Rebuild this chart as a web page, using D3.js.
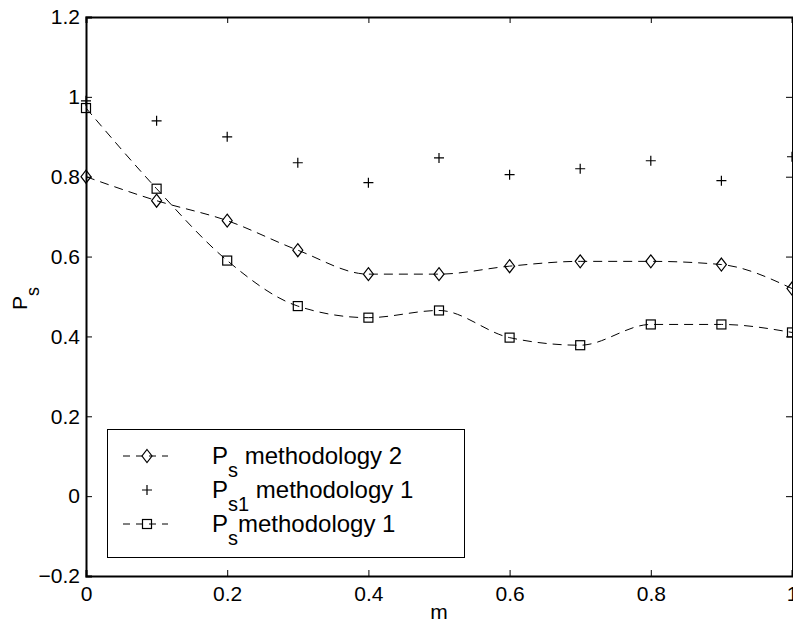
<!DOCTYPE html>
<html>
<head>
<meta charset="utf-8">
<script src="https://cdn.jsdelivr.net/npm/d3@7"></script>
<style>
  html, body { margin: 0; padding: 0; background: #fff; }
  svg { display: block; font-family: "Liberation Sans", Arial, Helvetica, sans-serif; }
</style>
</head>
<body>
<script>
// chart data
const mValues = [0, 0.1, 0.2, 0.3, 0.4, 0.5, 0.6, 0.7, 0.8, 0.9, 1.0];
const psMethodology2 = [0.80, 0.74, 0.69, 0.616, 0.556, 0.556, 0.576, 0.588, 0.588, 0.58, 0.52];
const ps1Methodology1 = [0.99, 0.94, 0.90, 0.835, 0.785, 0.847, 0.805, 0.82, 0.84, 0.79, 0.85];
const psMethodology1 = [0.972, 0.77, 0.59, 0.476, 0.447, 0.465, 0.397, 0.378, 0.43, 0.43, 0.41];
const xTicks = [0, 0.2, 0.4, 0.6, 0.8, 1];
const yTicks = [-0.2, 0, 0.2, 0.4, 0.6, 0.8, 1, 1.2];

const width = 793, height = 624;
const margin = { left: 86, right: 1, top: 17, bottom: 48 };
const plotW = width - margin.left - margin.right;
const plotH = height - margin.top - margin.bottom;

const svg = d3.select('body').append('svg')
    .attr('width', width)
    .attr('height', height);

const x = d3.scaleLinear().domain([0, 1]).range([margin.left, margin.left + plotW]);
const y = d3.scaleLinear().domain([-0.2, 1.2]).range([margin.top + plotH, margin.top]);

const fmt = v => (v < 0 ? '\u2212' : '') + d3.format('')(Math.abs(v));

// axes: ticks point inward, on all four sides
const tickLen = 6;
const axisBottom = d3.axisBottom(x).tickValues(xTicks).tickSize(-tickLen).tickPadding(10).tickFormat(fmt);
const axisTop = d3.axisTop(x).tickValues(xTicks).tickSize(-tickLen).tickFormat('');
const axisLeft = d3.axisLeft(y).tickValues(yTicks).tickSize(-tickLen).tickPadding(6).tickFormat(fmt);
const axisRight = d3.axisRight(y).tickValues(yTicks).tickSize(-tickLen).tickFormat('');

function styleAxis(g, w) {
    g.select('.domain').attr('stroke', '#000').attr('stroke-width', w);
    g.selectAll('.tick line').attr('stroke', '#000').attr('stroke-width', 1);
    g.selectAll('.tick text').attr('fill', '#000').attr('font-size', 21);
}

svg.append('g').attr('transform', `translate(0,${margin.top + plotH})`).call(axisBottom).call(g => styleAxis(g, 2));
svg.append('g').attr('transform', `translate(0,${margin.top})`).call(axisTop).call(g => styleAxis(g, 2));
svg.append('g').attr('transform', `translate(${margin.left},0)`).call(axisLeft).call(g => styleAxis(g, 2));
svg.append('g').attr('transform', `translate(${margin.left + plotW},0)`).call(axisRight).call(g => styleAxis(g, 1));

svg.selectAll('.domain').attr('fill', 'none');

// axis labels
svg.append('text')
    .attr('x', x(0.5))
    .attr('y', 619)
    .attr('text-anchor', 'middle')
    .attr('font-size', 21)
    .text('m');

const yLab = svg.append('text')
    .attr('transform', `translate(27,${y(0.5) + 2}) rotate(-90)`)
    .attr('text-anchor', 'middle')
    .attr('font-size', 21);
yLab.append('tspan').text('P');
yLab.append('tspan').attr('dy', 12).attr('font-size', 18).text('s');

// series
const line = d3.line()
    .x((d, i) => x(mValues[i]))
    .y(d => y(d))
    .curve(d3.curveMonotoneX);

const dash = '9,6';

const diamond = (g, cx, cy) => g.append('path')
    .attr('d', `M${cx},${cy - 6.5}L${cx + 5},${cy}L${cx},${cy + 6.5}L${cx - 5},${cy}Z`)
    .attr('fill', 'none').attr('stroke', '#000').attr('stroke-width', 1.2);
const square = (g, cx, cy) => g.append('rect')
    .attr('x', cx - 4.5).attr('y', cy - 4.5).attr('width', 9).attr('height', 9)
    .attr('fill', 'none').attr('stroke', '#000').attr('stroke-width', 1.2);
const plus = (g, cx, cy) => g.append('path')
    .attr('d', `M${cx - 5},${cy}H${cx + 5}M${cx},${cy - 5}V${cy + 5}`)
    .attr('fill', 'none').attr('stroke', '#000').attr('stroke-width', 1.2);

const plot = svg.append('g');

plot.append('path')
    .datum(psMethodology2)
    .attr('d', line)
    .attr('fill', 'none').attr('stroke', '#000').attr('stroke-width', 1)
    .attr('stroke-dasharray', dash);
plot.append('path')
    .datum(psMethodology1)
    .attr('d', line)
    .attr('fill', 'none').attr('stroke', '#000').attr('stroke-width', 1)
    .attr('stroke-dasharray', dash);

psMethodology2.forEach((v, i) => diamond(plot, x(mValues[i]), y(v)));
psMethodology1.forEach((v, i) => square(plot, x(mValues[i]), y(v)));
ps1Methodology1.forEach((v, i) => plus(plot, x(mValues[i]), y(v)));

// legend
const legend = svg.append('g');
legend.append('rect')
    .attr('x', 107.5).attr('y', 429.5).attr('width', 357).attr('height', 128)
    .attr('fill', '#fff').attr('stroke', '#000').attr('stroke-width', 1);

const legendRows = [
    { sub: 's', rest: ' methodology 2', marker: diamond, dashed: true, cy: 456 },
    { sub: 's1', rest: ' methodology 1', marker: plus, dashed: false, cy: 490 },
    { sub: 's', rest: 'methodology 1', marker: square, dashed: true, cy: 524 }
];

legendRows.forEach(r => {
    if (r.dashed) {
        legend.append('line')
            .attr('x1', 123).attr('x2', 168).attr('y1', r.cy).attr('y2', r.cy)
            .attr('stroke', '#000').attr('stroke-width', 1).attr('stroke-dasharray', '7,6');
    }
    r.marker(legend, 147, r.cy);
    const t = legend.append('text')
        .attr('x', 212)
        .attr('y', r.cy + 8)
        .attr('font-size', 24);
    t.append('tspan').text('P');
    t.append('tspan').attr('dy', 13).attr('font-size', 20).text(r.sub);
    t.append('tspan').attr('dy', -13).text(r.rest);
});
</script>
</body>
</html>
